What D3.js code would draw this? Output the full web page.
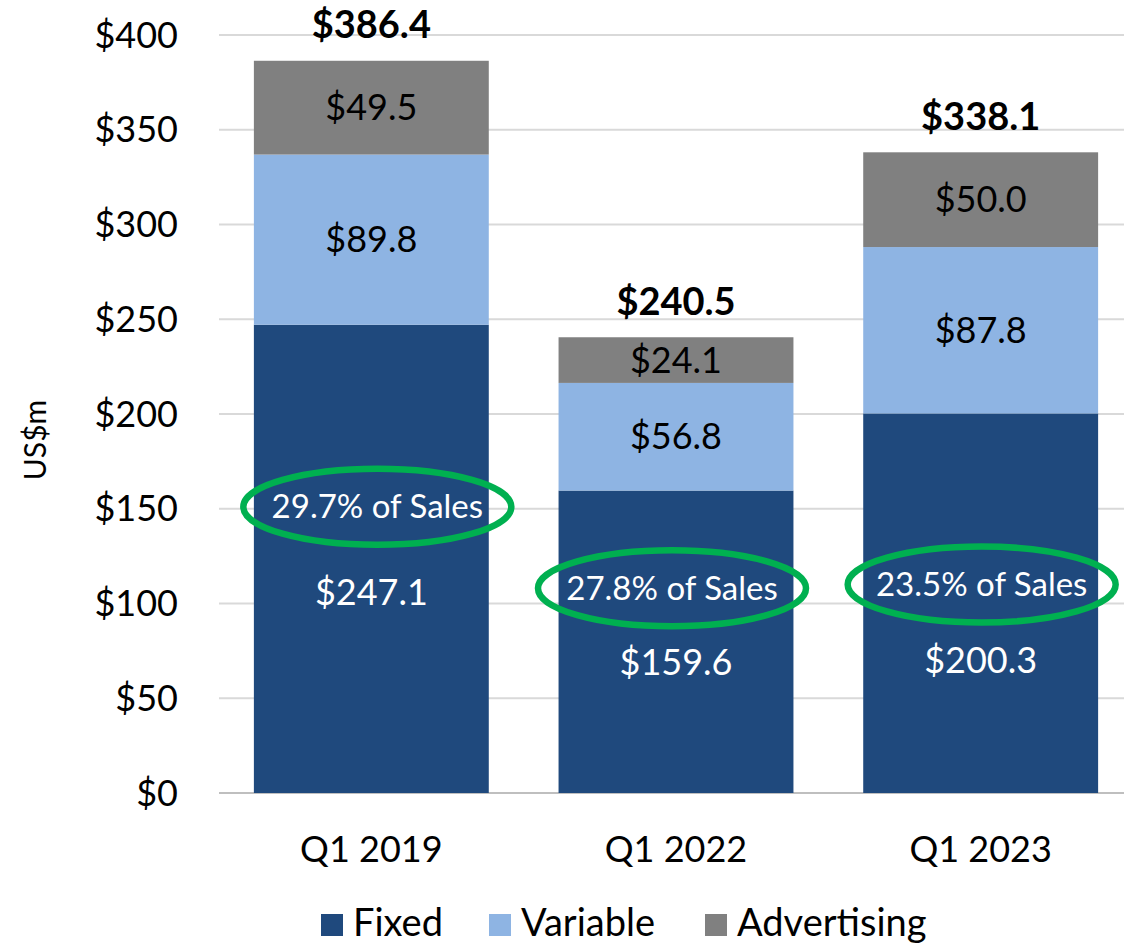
<!DOCTYPE html>
<html>
<head>
<meta charset="utf-8">
<script src="https://cdn.jsdelivr.net/npm/d3@7"></script>
<style>
  body { margin: 0; background: #fff; }
  text { font-family: Lato, "Open Sans", sans-serif; }
</style>
</head>
<body>
<svg width="1124" height="944"></svg>
<script>
// data
let categories = ['Q1 2019', 'Q1 2022', 'Q1 2023'];
let fixed = [247.1, 159.6, 200.3];
let variable = [89.8, 56.8, 87.8];
let advertising = [49.5, 24.1, 50.0];
let totals = [386.4, 240.5, 338.1];
let salesShare = ['29.7% of Sales', '27.8% of Sales', '23.5% of Sales'];
// where the circled note and the fixed value sit, in US$m
let noteAt = [151, 108, 110];
let fixedLabelAt = [106, 69, 70];
let yTicks = [0, 50, 100, 150, 200, 250, 300, 350, 400];

let seriesNames = ['Fixed', 'Variable', 'Advertising'];
let colors = ['#1f497d', '#8eb4e3', '#808080'];

let svg = d3.select('svg');

let y = d3.scaleLinear().domain([0, 400]).range([793, 35]);
let x = d3.scaleBand()
  .domain(categories)
  .range([219, 1133])
  .paddingInner(0.229)
  .paddingOuter(0.1145);

// gridlines
svg.append('g')
  .selectAll('line')
  .data(yTicks)
  .join('line')
    .attr('x1', 219)
    .attr('x2', 1124)
    .attr('y1', d => y(d))
    .attr('y2', d => y(d))
    .attr('stroke', d => d === 0 ? '#bfbfbf' : '#d9d9d9')
    .attr('stroke-width', 2);

// y tick labels
svg.append('g')
  .selectAll('text')
  .data(yTicks)
  .join('text')
    .attr('x', 178)
    .attr('y', d => y(d))
    .attr('dy', '0.35em')
    .attr('text-anchor', 'end')
    .attr('font-size', 36)
    .attr('fill', '#000')
    .text(d => '$' + d);

svg.append('text')
  .attr('transform', 'translate(46, 440) rotate(-90)')
  .attr('text-anchor', 'middle')
  .attr('font-size', 30)
  .text('US$m');

// stacked bars
let rows = categories.map((c, i) => ({
  cat: c, Fixed: fixed[i], Variable: variable[i], Advertising: advertising[i]
}));
let stack = d3.stack().keys(seriesNames)(rows);

let layers = svg.append('g')
  .selectAll('g')
  .data(stack)
  .join('g')
    .attr('fill', (d, i) => colors[i]);

layers.selectAll('rect')
  .data(d => d)
  .join('rect')
    .attr('x', d => x(d.data.cat))
    .attr('width', x.bandwidth())
    .attr('y', d => y(d[1]))
    .attr('height', d => y(d[0]) - y(d[1]));

// segment labels (variable and advertising centred)
stack.slice(1).forEach(layer => {
  svg.append('g')
    .selectAll('text')
    .data(layer)
    .join('text')
      .attr('x', d => x(d.data.cat) + x.bandwidth() / 2)
      .attr('y', d => y((d[0] + d[1]) / 2))
      .attr('dy', '0.35em')
      .attr('text-anchor', 'middle')
      .attr('font-size', 36)
      .attr('fill', '#000')
      .text(d => '$' + (d[1] - d[0]).toFixed(1));
});

// fixed labels, pushed down below the note
svg.append('g')
  .selectAll('text')
  .data(fixed)
  .join('text')
    .attr('x', (d, i) => x(categories[i]) + x.bandwidth() / 2)
    .attr('y', (d, i) => y(fixedLabelAt[i]))
    .attr('dy', '0.35em')
    .attr('text-anchor', 'middle')
    .attr('font-size', 36)
    .attr('fill', '#fff')
    .text(d => '$' + d.toFixed(1));

// totals
svg.append('g')
  .selectAll('text')
  .data(totals)
  .join('text')
    .attr('x', (d, i) => x(categories[i]) + x.bandwidth() / 2)
    .attr('y', d => y(d) - 36)
    .attr('dy', '0.35em')
    .attr('text-anchor', 'middle')
    .attr('font-size', 38)
    .attr('font-weight', 'bold')
    .attr('fill', '#000')
    .text(d => '$' + d.toFixed(1));

// circled share-of-sales notes
let noteOffset = [6, -4, 1];
let notes = svg.append('g')
  .selectAll('g')
  .data(salesShare)
  .join('g')
    .attr('transform', (d, i) =>
      `translate(${x(categories[i]) + x.bandwidth() / 2 + noteOffset[i]}, ${y(noteAt[i])})`);

notes.append('text')
  .attr('text-anchor', 'middle')
  .attr('dy', '0.35em')
  .attr('font-size', 33)
  .attr('fill', '#fff')
  .text(d => d);

notes.append('ellipse')
  .attr('rx', 134)
  .attr('ry', 38)
  .attr('fill', 'none')
  .attr('stroke', '#00b050')
  .attr('stroke-width', 6.5);

// category labels
svg.append('g')
  .selectAll('text')
  .data(categories)
  .join('text')
    .attr('x', d => x(d) + x.bandwidth() / 2)
    .attr('y', 862)
    .attr('text-anchor', 'middle')
    .attr('font-size', 36)
    .attr('fill', '#000')
    .text(d => d);

// legend
let legendX = [321, 489, 705];
let legend = svg.append('g')
  .selectAll('g')
  .data(seriesNames)
  .join('g')
    .attr('transform', (d, i) => `translate(${legendX[i]}, 914)`);

legend.append('rect')
  .attr('width', 22)
  .attr('height', 22)
  .attr('fill', (d, i) => colors[i]);

legend.append('text')
  .attr('x', 32)
  .attr('y', 22)
  .attr('font-size', 38)
  .attr('fill', '#000')
  .text(d => d);
</script>
</body>
</html>
